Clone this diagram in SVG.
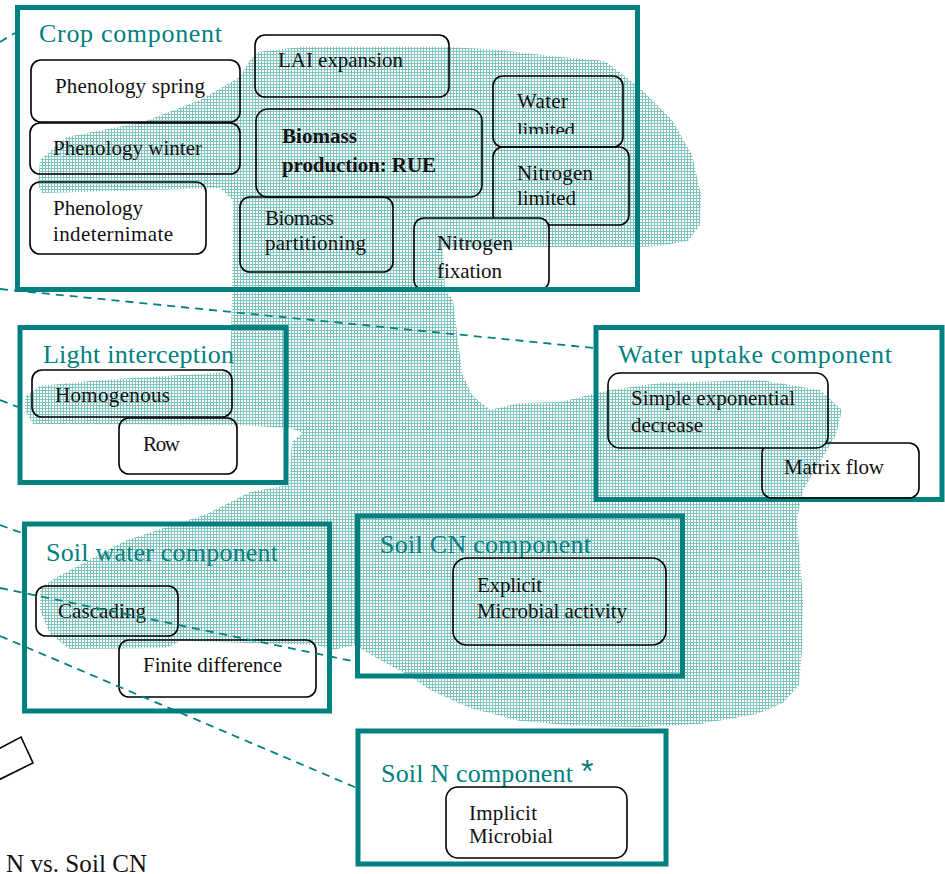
<svg xmlns="http://www.w3.org/2000/svg" width="945" height="874" viewBox="0 0 945 874">
<style>
.comp{fill:none;stroke:#008080;stroke-width:5}
.box{fill:none;stroke:#000;stroke-width:1.6}
.wbox{fill:#fff;stroke:none}
.title{font-family:"Liberation Serif",serif;font-size:26px;fill:#008080}
.lbl{font-family:"Liberation Serif",serif;font-size:21px;fill:#111}
.big{font-size:25px}
.bold{font-weight:bold}
.conn line{stroke:#008080;stroke-width:1.8;stroke-dasharray:8 6;fill:none}
</style>
<defs>
<pattern id="hatch" width="3" height="3" patternUnits="userSpaceOnUse">
<rect width="3" height="1" fill="#80c2bd"/>
<rect width="1" height="3" fill="#80c2bd"/>
</pattern>
<path id="blobShape" d="M258,52 L300,47 L450,47 L500,50 L560,57 L605,61 L640,88 L672,120 L692,155 L701,195 L700,225 L688,241 L660,246 L637,247 L443,247 L445,290 L453,300 L458,340 L462,373 L472,395 L490,410 L520,403 L560,402 L610,390 L660,383 L760,380 L820,390 L842,410 L836,435 L820,462 L803,490 L797,520 L800,560 L803,600 L802,650 L799,685 L783,703 L757,714 L700,724 L640,727 L580,726 L520,721 L470,708 L430,690 L410,676 L380,660 L355,645 L333,650 L316,645 L180,641 L167,648 L70,649 L50,634 L40,610 L40,588 L57,577 L127,540 L207,514 L250,492 L289,485 L292,442 L303,433 L290,428 L237,425 L33,424 L25,410 L25,397 L40,386 L100,380 L230,372 L232,300 L233,200 L220,188 L150,190 L42,193 L38,185 L40,160 L67,137 L143,122 L200,100 L240,77 L250,60 Z"/>
<clipPath id="blobClip"><use href="#blobShape"/></clipPath>
<clipPath id="clipWaterLim"><rect x="490" y="70" width="140" height="64"/></clipPath>
<clipPath id="clipPart"><rect x="240" y="197" width="153" height="58"/></clipPath>
</defs>
<rect width="945" height="874" fill="#fff"/>
<g id="blob"><use href="#blobShape" fill="url(#hatch)"/></g>

<g id="crop-component">
<text class="title" x="39" y="42" textLength="183">Crop component</text>
<g id="phenology-spring"><rect class="box" x="31" y="60" width="209" height="62" rx="10"/><text class="lbl" x="55" y="93" textLength="150">Phenology spring</text></g>
<g id="phenology-winter"><rect class="box" x="30" y="123" width="210" height="51" rx="10"/><text class="lbl" x="53" y="155" textLength="149">Phenology winter</text></g>
<g id="phenology-indeterminate"><rect class="box" x="30" y="182" width="176" height="72" rx="10"/><text class="lbl" x="53" y="215" textLength="90">Phenology</text><text class="lbl" x="53" y="241" textLength="120">indeternimate</text></g>
<g id="lai-expansion"><rect class="box" x="255" y="35" width="194" height="62" rx="10"/><text class="lbl" x="278" y="67" textLength="125">LAI expansion</text></g>
<g id="biomass-production"><rect class="box" x="256" y="109" width="226" height="88" rx="12" stroke-width="4"/><text class="lbl bold" x="282" y="143" textLength="75">Biomass</text><text class="lbl bold" x="282" y="172" textLength="154">production: RUE</text></g>
<g id="water-limited"><rect class="box" x="493" y="76" width="130" height="71" rx="10"/><text class="lbl" x="517" y="108" textLength="51">Water</text><text class="lbl" x="517" y="137" textLength="58" clip-path="url(#clipWaterLim)">limited</text></g>
<g id="nitrogen-limited"><rect class="box" x="493" y="147" width="136" height="78" rx="10"/><text class="lbl" x="517" y="180" textLength="76">Nitrogen</text><text class="lbl" x="517" y="205" textLength="59">limited</text></g>
<g id="biomass-partitioning"><rect class="box" x="240" y="197" width="153" height="75" rx="10"/><text class="lbl" x="265" y="225" textLength="69">Biomass</text><text class="lbl" x="265" y="250" textLength="101" clip-path="url(#clipPart)">partitioning</text></g>
<g id="nitrogen-fixation"><rect class="wbox" x="414" y="218" width="135" height="72" rx="10"/><rect x="414" y="218" width="135" height="72" rx="10" fill="url(#hatch)" clip-path="url(#blobClip)"/><rect class="box" x="414" y="218" width="135" height="72" rx="10"/><text class="lbl" x="437" y="250" textLength="76">Nitrogen</text><text class="lbl" x="437" y="278" textLength="65">fixation</text></g>
<rect class="comp" x="17.5" y="7.5" width="620" height="282"/>
</g>

<g id="light-interception">
<rect class="comp" x="20" y="327.5" width="266" height="155"/>
<text class="title" x="43" y="363" textLength="191">Light interception</text>
<g id="homogenous"><rect class="box" x="32" y="370" width="200" height="47" rx="10"/><text class="lbl" x="55" y="402" textLength="115">Homogenous</text></g>
<g id="row"><rect class="box" x="119" y="418" width="118" height="56" rx="10"/><text class="lbl" x="143" y="451" textLength="37">Row</text></g>
</g>

<g id="water-uptake-component">
<rect class="comp" x="596" y="327.5" width="346" height="172"/>
<text class="title" x="618" y="363" textLength="274">Water uptake component</text>
<g id="matrix-flow"><rect class="box" x="762" y="443" width="157" height="55" rx="10"/><text class="lbl" x="784" y="474" textLength="100">Matrix flow</text></g>
<g id="simple-exponential"><rect class="wbox" x="608" y="373" width="220" height="75" rx="12"/><rect x="608" y="373" width="220" height="75" rx="12" fill="url(#hatch)" clip-path="url(#blobClip)"/><rect class="box" x="608" y="373" width="220" height="75" rx="12"/><text class="lbl" x="631" y="405" textLength="164">Simple exponential</text><text class="lbl" x="631" y="432" textLength="72">decrease</text></g>
</g>

<g id="soil-water-component">
<rect class="comp" x="24.5" y="524" width="305" height="187"/>
<text class="title" x="46" y="561" textLength="232">Soil water component</text>
<g id="cascading"><rect class="box" x="36" y="586" width="142" height="50" rx="10"/><text class="lbl" x="58" y="618" textLength="88">Cascading</text></g>
<g id="finite-difference"><rect class="box" x="119" y="640" width="197" height="57" rx="10"/><text class="lbl" x="143" y="672" textLength="139">Finite difference</text></g>
</g>

<g id="soil-cn-component">
<rect class="comp" x="357.5" y="516" width="325" height="160"/>
<text class="title" x="380" y="553" textLength="211">Soil CN component</text>
<g id="explicit"><rect class="box" x="453" y="558" width="213" height="87" rx="14"/><text class="lbl" x="477" y="592" textLength="65">Explicit</text><text class="lbl" x="477" y="618" textLength="150">Microbial activity</text></g>
</g>

<g id="soil-n-component">
<rect class="comp" x="358" y="731" width="308" height="133"/>
<text class="title" x="381" y="782" textLength="192">Soil N component</text>
<text x="581" y="782" font-family="Liberation Sans, sans-serif" font-size="32" fill="#008080">*</text>
<g id="implicit"><rect class="box" x="446" y="787" width="181" height="71" rx="12"/><text class="lbl" x="469" y="820" textLength="68">Implicit</text><text class="lbl" x="469" y="843" textLength="84">Microbial</text></g>
</g>

<g id="partial-left">
<path class="box" d="M-30,764 L21,737 L33,763 L-30,794"/>
<text class="lbl big" x="6" y="872" textLength="141">N vs. Soil CN</text>
</g>

<g id="connectors" class="conn">
<line x1="0" y1="42" x2="15" y2="33"/>
<line x1="0" y1="289" x2="594" y2="348"/>
<line x1="0" y1="400" x2="18" y2="407"/>
<line x1="0" y1="525" x2="22" y2="533"/>
<line x1="0" y1="588" x2="357" y2="662"/>
<line x1="0" y1="636" x2="357" y2="788"/>
</g>
</svg>
